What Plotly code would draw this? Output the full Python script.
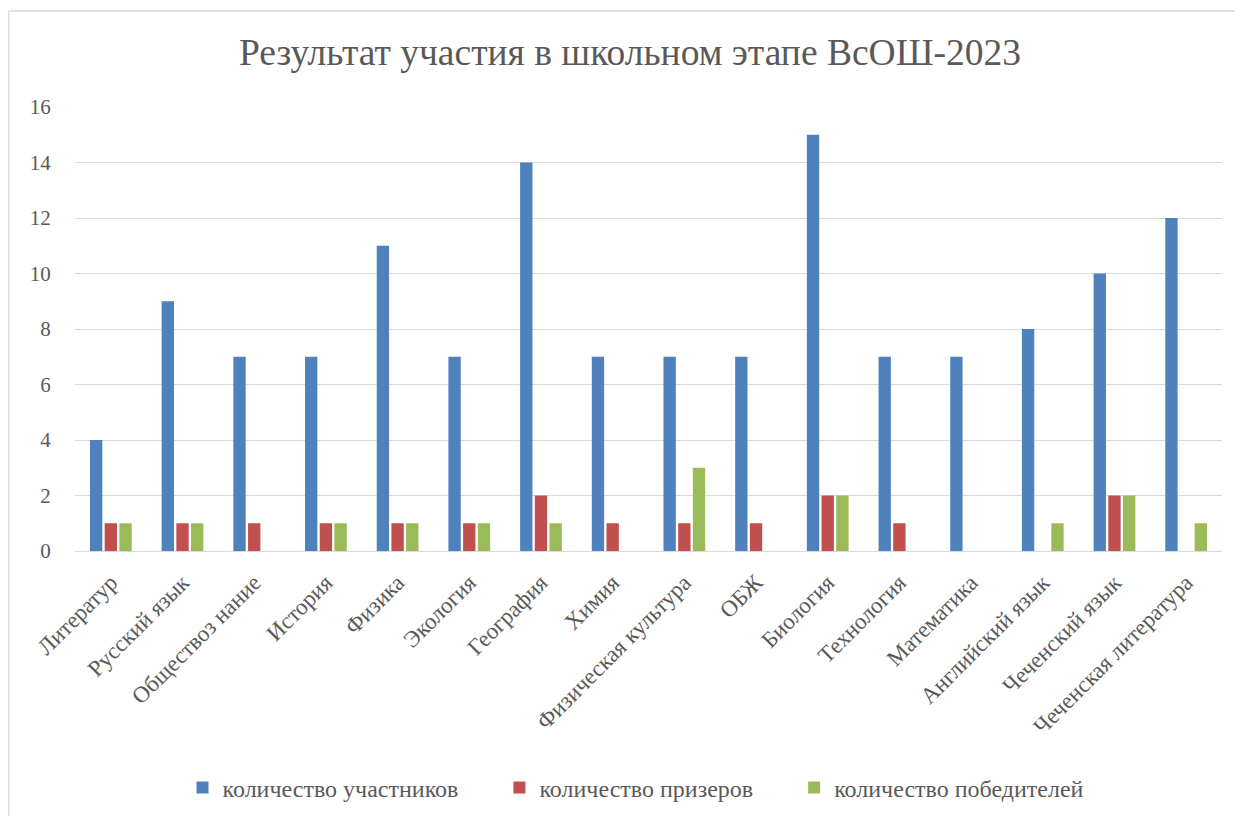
import plotly.graph_objects as go

categories = ["Литератур", "Русский язык", "Обществоз нание", "История", "Физика",
              "Экология", "География", "Химия", "Физическая культура", "ОБЖ",
              "Биология", "Технология", "Математика", "Английский язык",
              "Чеченский язык", "Чеченская литература"]
participants = [4, 9, 7, 7, 11, 7, 14, 7, 7, 7, 15, 7, 7, 8, 10, 12]
prizewinners = [1, 1, 1, 1, 1, 1, 2, 1, 1, 1, 2, 1, 0, 0, 2, 0]
winners = [1, 1, 0, 1, 1, 1, 1, 0, 3, 0, 2, 0, 0, 1, 2, 1]
series_names = ["количество участников", "количество призеров", "количество победителей"]
colors = ["#4F81BD", "#C0504D", "#9BBB59"]

W, H = 1243, 816
OFF = 8  # page body margin
ml, mr, mt, mb = 75 - OFF, 21 + OFF, 107 - OFF, 265 + OFF
pw, ph = W - ml - mr, H - mt - mb

pad = ["\u00a0" * 6, "\u00a0" * 6, ""]
fig = go.Figure()
for name, vals, col, p in zip(series_names, [participants, prizewinners, winners], colors, pad):
    fig.add_trace(go.Bar(x=categories, y=vals, name=name + p, marker_color=col,
                         marker_line_width=0))

font = "Liberation Serif"
fig.update_layout(
    width=W, height=H,
    margin=dict(l=ml, r=mr, t=mt, b=mb, autoexpand=False),
    paper_bgcolor="white", plot_bgcolor="white",
    barmode="group", bargap=0.385, bargroupgap=0.16,
    title=dict(text="Результат участия в школьном этапе ВсОШ-2023",
               x=(630 - OFF) / W, xanchor="center", y=1 - (52 - OFF) / H, yanchor="middle",
               font=dict(family=font, size=37.5, color="#595959")),
    font=dict(family=font, color="#595959"),
    xaxis=dict(tickangle=-45, tickfont=dict(family=font, size=23, color="#595959"),
               showline=False, ticks="outside", ticklen=8, tickcolor="rgba(0,0,0,0)",
               showgrid=False, automargin=False),
    yaxis=dict(range=[0, 16], dtick=2, tickfont=dict(family=font, size=21, color="#595959"),
               showgrid=True, gridcolor="#d9d9d9", gridwidth=1.3,
               zeroline=True, zerolinecolor="#d9d9d9", zerolinewidth=1.3,
               ticks="outside", ticklen=19, tickcolor="rgba(0,0,0,0)",
               showline=False, automargin=False),
    legend=dict(orientation="h", x=(636 - OFF - ml) / pw, xanchor="center",
                y=-(788 - (H - mb) - OFF) / ph, yanchor="middle",
                font=dict(family=font, size=24, color="#595959"), itemwidth=30,
                traceorder="normal"),
    showlegend=True,
)
fig.add_shape(type="rect", xref="paper", yref="paper",
              x0=(0.7 - ml) / pw, x1=(W + 10 - ml) / pw,
              y0=-(H + 10 - (H - mb)) / ph, y1=((H - mb) - (11 - OFF)) / ph,
              line=dict(color="#d9d9d9", width=1.3), fillcolor="rgba(0,0,0,0)", layer="below")
fig.write_html("out.html")
